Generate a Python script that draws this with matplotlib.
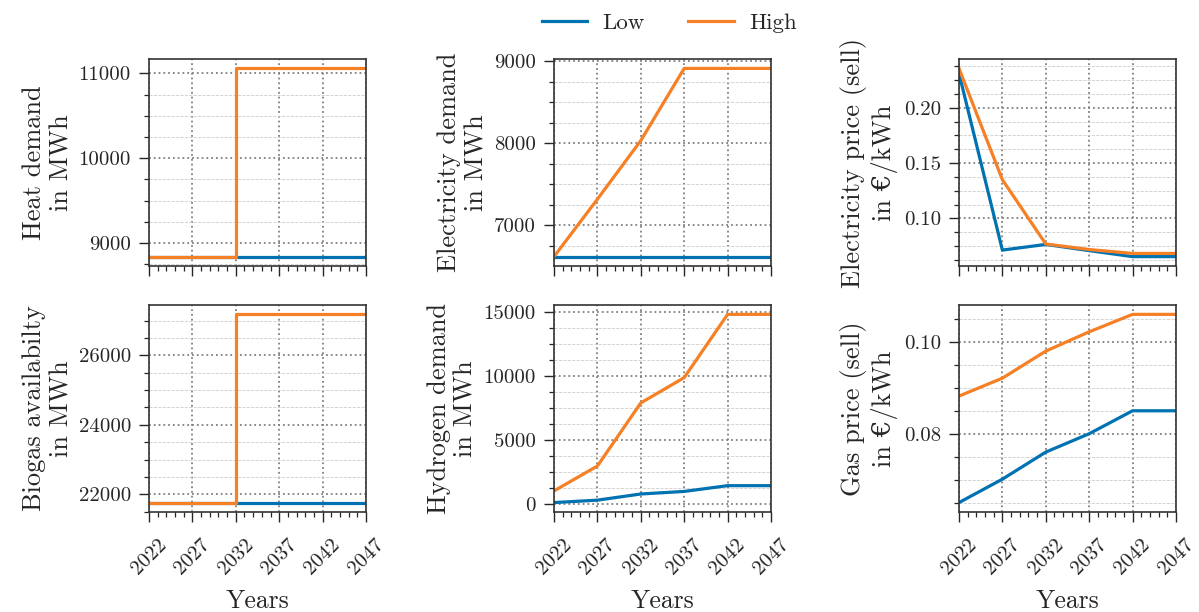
import matplotlib
matplotlib.use("Agg")
import matplotlib.pyplot as plt
from matplotlib.ticker import MultipleLocator, AutoMinorLocator

plt.rcParams["font.family"] = ["cmr10", "DejaVu Serif"]
plt.rcParams["axes.formatter.use_mathtext"] = False
plt.rcParams["axes.unicode_minus"] = False

# scenario data (5-year steps)
years = [2022, 2027, 2032, 2037, 2042, 2047]

heat_low = [8840, 8840, 8840, 8840, 8840, 8840]
heat_high = [8840, 8840, 11060, 11060, 11060, 11060]

elec_low = [6615, 6615, 6615, 6615, 6615, 6615]
elec_high = [6615, 7315, 8030, 8910, 8910, 8910]

elprice_low = [0.231, 0.0715, 0.0766, 0.071, 0.0656, 0.0656]
elprice_high = [0.2354, 0.135, 0.077, 0.072, 0.0685, 0.0685]

biogas_low = [21760, 21760, 21760, 21760, 21760, 21760]
biogas_high = [21760, 21760, 27180, 27180, 27180, 27180]

h2_low = [130, 320, 800, 1000, 1450, 1450]
h2_high = [1040, 2980, 7900, 9870, 14800, 14800]

gas_low = [0.065, 0.0701, 0.076, 0.080, 0.085, 0.085]
gas_high = [0.0882, 0.0921, 0.098, 0.1022, 0.106, 0.106]

c_low = "#0072B2"
c_high = "#F58025"
txt = "0.15"

panels = [
    (heat_low, heat_high, "Heat demand\nin MWh", 1000, "steps-post"),
    (elec_low, elec_high, "Electricity demand\nin MWh", 1000, "default"),
    (elprice_low, elprice_high, "Electricity price (sell)\nin €/kWh", 0.05, "default"),
    (biogas_low, biogas_high, "Biogas availabilty\nin MWh", 2000, "steps-post"),
    (h2_low, h2_high, "Hydrogen demand\nin MWh", 5000, "default"),
    (gas_low, gas_high, "Gas price (sell)\nin €/kWh", 0.02, "default"),
]

fig, axes = plt.subplots(2, 3, figsize=(11.99, 6.12), dpi=100, sharex=True)
fig.subplots_adjust(left=149/1199, right=1176/1199, top=1-59/612, bottom=1-512/612,
                    wspace=0.866, hspace=0.188)

for ax, (lo, hi, label, step, ds) in zip(axes.flat, panels):
    ax.plot(years, lo, color=c_low, lw=2.3, drawstyle=ds, label="Low")
    ax.plot(years, hi, color=c_high, lw=2.3, drawstyle=ds, label="High")
    ax.set_xlim(2022, 2047)
    ax.set_xticks(years)
    ax.xaxis.set_minor_locator(MultipleLocator(1))
    ax.yaxis.set_major_locator(MultipleLocator(step))
    ax.yaxis.set_minor_locator(AutoMinorLocator(4))
    ax.grid(which="major", linestyle=":", color="0.5", linewidth=1.3)
    ax.grid(which="minor", axis="y", linestyle="--", color="0.8", linewidth=0.6)
    ax.set_ylabel(label, fontsize=19, color=txt)
    ax.tick_params(which="major", length=7, width=1, colors=txt, labelsize=15)
    ax.tick_params(axis="y", which="major", pad=6)
    ax.tick_params(axis="x", which="major", pad=10)
    ax.tick_params(which="minor", length=3.8, width=0.9, colors=txt)
    for s in ax.spines.values():
        s.set_linewidth(1.2)
        s.set_color("0.2")

for ax in axes[1]:
    ax.set_xlabel("Years", fontsize=18.5, color=txt, labelpad=8)
    for lab in ax.get_xticklabels():
        lab.set_rotation(45)

handles, labels = axes[0, 0].get_legend_handles_labels()
fig.legend(handles, labels, loc="upper center", bbox_to_anchor=(669/1199, 1.012),
           ncol=2, frameon=False, fontsize=16.5, handlelength=2.0, handletextpad=0.65,
           columnspacing=1.9, labelcolor=txt)

fig.savefig("out.png", dpi=100)
